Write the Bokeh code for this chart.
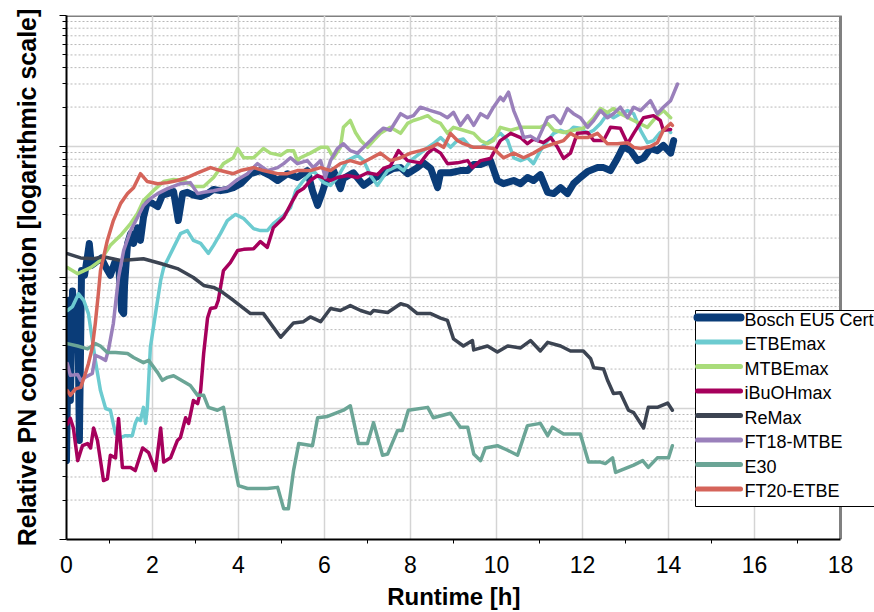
from bokeh.plotting import figure
from bokeh.models import (Range1d, FixedTicker, CustomJSTickFormatter, Label,
                          BoxAnnotation, Arrow)
from bokeh.embed import file_html
from bokeh.resources import INLINE

# ---------------- data ----------------
t_bosch = [0.0, 0.05, 0.09, 0.14, 0.21, 0.26, 0.30, 0.35, 0.42, 0.49, 0.53, 0.58, 0.67, 0.81, 0.93,
           1.02, 1.12, 1.21, 1.28, 1.33, 1.35, 1.42, 1.49, 1.56, 1.65, 1.72, 1.79, 1.88, 2.0, 2.12,
           2.23, 2.35, 2.49, 2.60, 2.70, 2.81, 2.95, 3.12, 3.28, 3.42, 3.58, 3.74, 3.88, 4.05, 4.28,
           4.51, 4.74, 4.91, 5.14, 5.37, 5.60, 5.72, 5.84, 5.95, 6.02, 6.21, 6.37, 6.44, 6.67, 6.91,
           7.14, 7.37, 7.60, 7.77, 7.93, 8.16, 8.30, 8.47, 8.63, 8.70, 8.93, 9.16, 9.33, 9.47, 9.63,
           9.86, 10.02, 10.16, 10.40, 10.56, 10.72, 10.86, 11.02, 11.19, 11.33, 11.49, 11.65, 11.79,
           11.95, 12.12, 12.35, 12.49, 12.65, 12.81, 12.95, 13.12, 13.28, 13.42, 13.58, 13.74, 13.88,
           14.05, 14.12]
v_bosch = [4.0, 67, 11.5, 79, 40, 67, 5.7, 113, 104, 147, 182, 124, 130, 141, 117,
           104, 130, 130, 56, 53, 87, 182, 216, 182, 240, 192, 287, 380, 368, 348,
           425, 437, 453, 272, 437, 447, 425, 415, 437, 470, 460, 470, 485, 520, 620,
           655, 600, 550, 620, 580, 655, 460, 355, 447, 530, 655, 477, 570, 630, 505,
           570, 620, 680, 690, 620, 690, 750, 680, 485, 630, 630, 655, 655, 730, 730,
           780, 550, 520, 550, 520, 580, 550, 610, 447, 437, 485, 437, 520,
           580, 645, 690, 690, 655, 810, 1000, 930, 780, 820, 965, 930, 1020,
           890, 1110]

t_etbe = [0.02, 0.14, 0.28, 0.40, 0.51, 0.67, 0.79, 0.91, 1.02, 1.14, 1.26, 1.37, 1.53, 1.60, 1.65,
          1.72, 1.79, 1.84, 1.88, 1.95, 2.07, 2.19, 2.26, 2.49, 2.65, 2.81, 2.95, 3.12, 3.30, 3.42,
          3.58, 3.74, 3.93, 4.12, 4.35, 4.51, 4.67, 4.81, 5.05, 5.21, 5.33, 5.51, 5.74, 5.98, 6.14,
          6.30, 6.53, 6.77, 6.91, 7.07, 7.23, 7.47, 7.70, 7.84, 8.0, 8.23, 8.40, 8.53, 8.70, 8.93,
          9.09, 9.23, 9.40, 9.63, 9.86, 10.09, 10.26, 10.40, 10.56, 10.72, 10.86, 11.02, 11.19, 11.33,
          11.49, 11.65, 11.79, 11.95, 12.12, 12.26, 12.42, 12.58, 12.72, 12.88, 13.05, 13.19, 13.35,
          13.51, 13.65, 13.81, 13.98, 14.05]
v_etbe = [56, 60, 75, 67, 53, 23.3, 13.7, 10, 9.7, 6.4, 6.0, 6.2, 6.2, 7.7, 8.4,
          8.1, 10.2, 7.7, 10.2, 29.2, 53, 95, 119, 169, 216, 228, 192, 182, 153, 176,
          216, 272, 303, 282, 236, 228, 228, 258, 298, 342, 460, 550, 655, 530, 505,
          580, 780, 855, 780, 600, 505, 655, 710, 655, 780, 890, 985, 1050, 1170, 985,
          1110, 1140, 985, 985, 1110, 1260, 1110, 820, 780, 820, 740, 930, 1110, 1260,
          1330, 1260, 1400, 1380, 1260, 1330, 1500, 1780, 1660, 1780, 1880, 1780, 1330,
          1070, 1110, 1280, 1380, 1280]

t_mtbe = [0.02, 0.26, 0.56, 0.79, 1.02, 1.26, 1.49, 1.65, 1.79, 2.02, 2.26, 2.49, 2.72, 2.95, 3.19,
          3.42, 3.65, 3.88, 3.98, 4.12, 4.35, 4.58, 4.74, 4.98, 5.14, 5.28, 5.37, 5.44, 5.67, 5.91,
          6.07, 6.21, 6.37, 6.44, 6.60, 6.72, 6.84, 7.0, 7.14, 7.30, 7.53, 7.77, 7.93, 8.07, 8.23,
          8.40, 8.53, 8.70, 8.86, 9.0, 9.23, 9.47, 9.63, 9.79, 9.93, 10.09, 10.33, 10.56, 10.79,
          11.02, 11.19, 11.33, 11.56, 11.79, 12.02, 12.26, 12.42, 12.58, 12.72, 12.88, 13.19, 13.51,
          13.74, 13.88, 14.05]
v_mtbe = [119, 107, 119, 135, 176, 210, 258, 308, 387, 460, 540, 560, 550, 495, 495,
          580, 740, 820, 965, 820, 820, 965, 890, 855, 930, 930, 780, 820, 890, 985,
          985, 820, 985, 1400, 1580, 1280, 1110, 985, 1110, 1260, 1400, 1260, 1500, 1580, 1640,
          1720, 1580, 1500, 1260, 1400, 1330, 1260, 1110, 1050, 1110, 1400, 1330, 1400, 1400,
          1400, 1500, 1330, 1280, 1330, 1380, 1660, 1950, 1820, 1950, 1780, 1580, 1400,
          1720, 1880, 1660]

t_ibuoh = [0.02, 0.09, 0.16, 0.26, 0.37, 0.49, 0.56, 0.63, 0.72, 0.86, 0.95, 1.02, 1.14, 1.21, 1.30,
           1.49, 1.60, 1.77, 1.91, 2.07, 2.19, 2.26, 2.42, 2.58, 2.65, 2.77, 2.84, 2.95, 3.05, 3.12,
           3.19, 3.28, 3.35, 3.47, 3.53, 3.65, 3.81, 3.98, 4.12, 4.35, 4.51, 4.67, 4.81, 5.05, 5.26,
           5.37, 5.51, 5.67, 5.84, 6.14, 6.30, 6.53, 6.77, 7.0, 7.23, 7.37, 7.53, 7.72, 7.93, 8.23,
           8.40, 8.53, 8.70, 8.86, 9.09, 9.33, 9.44, 9.63, 9.86, 10.09, 10.33, 10.56, 10.72, 10.86,
           11.09, 11.26, 11.42, 11.56, 11.72, 11.88, 12.12, 12.26, 12.49, 12.65, 12.88, 13.05, 13.19,
           13.42, 13.65, 13.81, 13.88, 14.05]
v_ibuoh = [7.6, 8.4, 7.1, 4.0, 5.2, 5.4, 5.0, 7.1, 5.7, 2.82, 2.9, 4.4, 4.2, 8.4, 3.55,
           3.55, 3.36, 5.0, 4.6, 3.36, 7.1, 3.9, 4.2, 5.7, 6.0, 8.5, 7.7, 11.5, 10.9, 13.7,
           26.3, 49, 58, 59, 67, 113, 130, 161, 164, 166, 188, 170, 240, 286, 387,
           447, 477, 550, 600, 550, 580, 600, 580, 630, 610, 680, 710, 930, 780, 750,
           890, 965, 890, 740, 750, 780, 690, 780, 810, 1110, 1260, 1170, 1050, 1140,
           1070, 1170, 985, 810, 890, 1260, 1280, 1110, 1110, 1400, 1380, 1050, 1260,
           1660, 1720, 1580, 1330, 1350]

t_remax = [0.02, 0.33, 0.63, 0.86, 1.26, 1.79, 2.19, 2.58, 2.95, 3.19, 3.42, 3.58, 3.88, 4.28, 4.58,
           4.98, 5.28, 5.51, 5.67, 5.91, 6.14, 6.37, 6.60, 6.84, 7.07, 7.14, 7.47, 7.77, 7.93, 8.16,
           8.47, 8.70, 8.86, 9.00, 9.23, 9.44, 9.47, 9.79, 10.02, 10.26, 10.56, 10.79, 11.02, 11.19,
           11.49, 11.72, 12.02, 12.19, 12.26, 12.49, 12.58, 12.72, 12.88, 13.07, 13.19, 13.42, 13.53,
           13.74, 13.98, 14.09]
v_remax = [152, 141, 139, 144, 135, 139, 128, 117, 100, 87, 84, 79, 67, 53, 53,
           35, 45, 46, 50, 46, 58, 56, 61, 56, 53, 56, 54, 63, 61, 53,
           53, 49, 47, 34, 30, 33, 28, 30, 27, 30, 29, 33, 27.5, 32,
           30, 27.5, 27.5, 24, 20.5, 20, 16.5, 13, 13.2, 9.7, 9.3, 7.1, 10.2,
           10.2, 11, 9.7]

t_ft18 = [0.02, 0.09, 0.26, 0.33, 0.44, 0.60, 0.67, 0.79, 0.91, 0.98, 1.09, 1.21, 1.33, 1.49, 1.65,
          1.79, 1.95, 2.12, 2.35, 2.65, 2.88, 3.05, 3.19, 3.42, 3.74, 3.98, 4.21, 4.44, 4.67, 4.91,
          5.05, 5.21, 5.37, 5.60, 5.74, 5.91, 6.02, 6.14, 6.30, 6.44, 6.60, 6.77, 6.91, 7.07, 7.23,
          7.37, 7.53, 7.77, 7.93, 8.07, 8.23, 8.47, 8.70, 8.86, 9.0, 9.16, 9.33, 9.47, 9.63, 9.79,
          9.93, 10.09, 10.16, 10.28, 10.40, 10.56, 10.63, 10.79, 10.95, 11.09, 11.19, 11.33, 11.49,
          11.65, 11.79, 11.95, 12.12, 12.26, 12.42, 12.58, 12.72, 12.88, 13.05, 13.19, 13.35, 13.58,
          13.74, 13.88, 14.05, 14.21]
v_ft18 = [22, 17.9, 18.2, 16.4, 17.3, 18.5, 25.5, 24.5, 23.3, 28.5, 44.7, 100, 161, 228, 287,
          355, 400, 437, 477, 520, 530, 437, 447, 460, 485, 560, 620, 740, 655, 690,
          740, 820, 740, 780, 690, 780, 580, 780, 965, 1050, 930, 890, 985, 1110, 1260,
          1380, 1330, 1780, 1660, 1720, 1995, 1880, 1780, 1660, 1820, 1450, 1720, 1450, 1780, 1660,
          1995, 2380, 2240, 2600, 1880, 1400, 1170, 1200, 1110, 1400, 1660, 1720, 1500,
          1950, 1780, 1660, 1400, 1580, 1880, 1660, 1780, 1995, 1660, 1995, 1880, 2240,
          1780, 1995, 2240, 3000]

t_e30 = [0.02, 0.26, 0.49, 0.67, 0.79, 0.95, 1.14, 1.42, 1.56, 1.79, 1.91, 2.12, 2.23, 2.35, 2.49,
         2.65, 2.88, 3.05, 3.19, 3.30, 3.51, 3.65, 3.81, 4.0, 4.21, 4.67, 4.91, 5.05, 5.16, 5.28,
         5.40, 5.72, 5.84, 6.07, 6.44, 6.60, 6.79, 7.0, 7.14, 7.35, 7.47, 7.70, 7.81, 7.95, 8.40,
         8.53, 8.93, 9.16, 9.33, 9.47, 9.63, 9.74, 10.02, 10.26, 10.49, 10.72, 11.02, 11.19, 11.30,
         11.56, 11.95, 12.14, 12.42, 12.53, 12.70, 12.77, 13.19, 13.40, 13.53, 13.74, 14.0, 14.09]
v_e30 = [31.3, 30, 28.5, 31.3, 30, 26.8, 26.8, 26.3, 24.5, 22.4, 23.3, 18.8, 16.4, 17.3, 17.8,
         16.6, 15, 12.6, 12.6, 10.2, 9.7, 10.2, 5.4, 2.58, 2.45, 2.45, 2.5, 1.72, 1.72, 3.36,
         5.4, 5.2, 8.5, 8.7, 9.7, 10.5, 5.4, 5.4, 7.8, 4.4, 4.5, 6.8, 6.8, 9.7, 10.2,
         8.5, 9.2, 7.2, 7.2, 4.5, 4.0, 5.0, 5.2, 4.8, 4.4, 7.4, 7.7, 6.2, 7.2,
         6.4, 6.4, 3.9, 3.9, 3.8, 4.2, 3.25, 3.7, 4.0, 3.55, 4.2, 4.2, 5.2]

t_ft20 = [0.02, 0.09, 0.21, 0.33, 0.44, 0.51, 0.60, 0.67, 0.74, 0.79, 0.95, 1.09, 1.26, 1.42, 1.56,
          1.72, 1.88, 2.12, 2.35, 2.58, 2.81, 3.05, 3.35, 3.58, 3.88, 4.05, 4.35, 4.58, 4.91, 5.14,
          5.37, 5.67, 5.91, 6.14, 6.37, 6.60, 6.84, 7.07, 7.30, 7.53, 7.77, 8.0, 8.23, 8.47, 8.63,
          8.77, 8.93, 9.09, 9.23, 9.47, 9.70, 9.93, 10.16, 10.40, 10.63, 10.86, 11.09, 11.33, 11.56,
          11.72, 11.88, 12.12, 12.35, 12.58, 12.81, 13.05, 13.19, 13.35, 13.58, 13.74, 13.88, 14.05,
          14.09]
v_ft20 = [13.7, 12.6, 14.1, 14.5, 18.5, 22, 29.2, 44.7, 75, 113, 192, 272, 368, 437, 485,
          620, 540, 520, 530, 550, 580, 630, 690, 655, 620, 655, 690, 655, 620, 620,
          655, 655, 690, 655, 740, 780, 740, 810, 890, 780, 820, 890, 930, 985, 1050,
          985, 1260, 1110, 1050, 985, 985, 965, 820, 890, 820, 890, 985, 1050, 1110,
          1260, 1170, 1170, 1260, 1050, 1050, 1070, 985, 965, 1000, 1070, 1330, 1500,
          1450]

names = ["Bosch EU5 Cert", "ETBEmax", "MTBEmax", "iBuOHmax", "ReMax", "FT18-MTBE", "E30", "FT20-ETBE"]
times = [t_bosch, t_etbe, t_mtbe, t_ibuoh, t_remax, t_ft18, t_e30, t_ft20]
values = [v_bosch, v_etbe, v_mtbe, v_ibuoh, v_remax, v_ft18, v_e30, v_ft20]
colors = ["#0a3c78", "#6ccbd0", "#a9dc7a", "#a6005c", "#3c4452", "#9a80bb", "#6ba596", "#d5645a"]
widths = [7, 3.5, 3.5, 3.5, 3.5, 3.5, 3.5, 3.5]

x_min, x_max = 0, 18
x_major = [0, 2, 4, 6, 8, 10, 12, 14, 16, 18]
x_minor = [1, 3, 5, 7, 9, 11, 13, 15, 17]
y_min, y_max = 1, 10000
y_major = [1, 10, 100, 1000, 10000]
y_minor = [m * d for d in [1, 10, 100, 1000] for m in range(2, 10)]

FONT = "Liberation Sans"

# The frame is widened past x=18 (to the page edge) so that the legend, which in the
# reference sticks out beyond the plot area, is not clipped; the visible plot box
# (borders and grid) still ends at x=18.
FRAME_LEFT, PLOT_RIGHT, PAGE_W = 66, 840, 874
x_view_max = x_max * (PAGE_W - FRAME_LEFT) / (PLOT_RIGHT - FRAME_LEFT)

p = figure(width=PAGE_W, height=612, y_axis_type="log",
           x_range=Range1d(x_min, x_view_max), y_range=Range1d(y_min, y_max),
           output_backend="svg", toolbar_location=None,
           min_border_left=FRAME_LEFT, min_border_right=0, min_border_top=15, min_border_bottom=73)

p.outline_line_color = None
p.background_fill_color = "white"
p.border_fill_color = "white"

# axes
p.xaxis.ticker = FixedTicker(ticks=x_major, minor_ticks=x_minor)
p.xaxis.bounds = (x_min, x_max)
p.yaxis.ticker = FixedTicker(ticks=y_major, minor_ticks=y_minor)
p.yaxis.formatter = CustomJSTickFormatter(code="return '';")
for ax in (p.xaxis, p.yaxis):
    ax.axis_line_color = "black"
    ax.axis_line_width = 2
    ax.major_tick_line_color = "black"
    ax.minor_tick_line_color = "black"
    ax.major_tick_in = 0
    ax.minor_tick_in = 0
    ax.axis_label_text_font = FONT
    ax.axis_label_text_font_style = "bold"
    ax.axis_label_text_color = "black"
    ax.major_label_text_font = FONT
    ax.major_label_text_color = "black"

p.xaxis.major_tick_out = 0
p.xaxis.minor_tick_out = 4
p.xaxis.major_label_text_font_size = "23px"
p.xaxis.major_label_standoff = 12
# trailing no-break spaces re-centre the label on 0..18 (the frame runs a bit wider)
p.xaxis.axis_label = "Runtime [h]" + "\u00a0" * 5
p.xaxis.axis_label_text_font_size = "24px"
p.xaxis.axis_label_standoff = 7

p.yaxis.major_tick_out = 7
p.yaxis.minor_tick_out = 4
p.yaxis.major_label_text_font_size = "1px"
p.yaxis.major_label_standoff = 0
p.yaxis.axis_label = "Relative PN concentration [logarithmic scale]"
p.yaxis.axis_label_text_font_size = "25px"
p.yaxis.axis_label_standoff = 19

# grids (horizontal ones drawn only across 0..18)
p.xgrid.ticker = FixedTicker(ticks=x_major[1:-1])
p.xgrid.grid_line_color = "#d4d4d4"
p.xgrid.grid_line_width = 1.5
p.ygrid.grid_line_color = None
p.multi_line([[x_min, x_max]] * len(y_minor), [[v, v] for v in y_minor],
             line_color="#b8b8b8", line_width=1, line_dash="2 2", level="underlay")
p.multi_line([[x_min, x_max]] * len(y_major[1:-1]), [[v, v] for v in y_major[1:-1]],
             line_color="#d4d4d4", line_width=1.5, level="underlay")
# grey top and right borders of the plot box
p.line([x_min, x_max, x_max], [y_max, y_max, y_min], line_color="#808080", line_width=3,
       level="underlay")

for t, v, col, lw in zip(times, values, colors, widths):
    p.line(t, v, line_color=col, line_width=lw, line_join="round", line_cap="round")

# legend: white box, left/top/bottom edges (its right edge lies beyond the page)
LEG_L, LEG_R, LEG_T, LEG_B = 629, 900, 229, 33
p.add_layout(BoxAnnotation(left=LEG_L, right=LEG_R, top=LEG_T, bottom=LEG_B,
                           left_units="screen", right_units="screen",
                           top_units="screen", bottom_units="screen",
                           fill_color="white", fill_alpha=1.0, line_color=None,
                           level="overlay"))
for (xa, ya, xb, yb) in [(LEG_L, LEG_T, LEG_R, LEG_T), (LEG_L, LEG_B, LEG_R, LEG_B),
                         (LEG_L, LEG_B, LEG_L, LEG_T)]:
    p.add_layout(Arrow(x_start=xa, y_start=ya, x_end=xb, y_end=yb,
                       start_units="screen", end_units="screen", end=None,
                       line_color="black", line_width=1, level="overlay"))
for i, (name, col, lw) in enumerate(zip(names, colors, widths)):
    yl = 222 - 24.5 * i
    p.add_layout(Arrow(x_start=631, y_start=yl, x_end=674, y_end=yl,
                       start_units="screen", end_units="screen", end=None,
                       line_color=col, line_width=8 if lw > 5 else 5, line_cap="round",
                       level="overlay"))
    p.add_layout(Label(x=678, y=yl - 2, x_units="screen", y_units="screen", text=name,
                       text_font=FONT, text_font_size="18px", text_color="black",
                       text_baseline="middle", text_align="left", level="overlay"))

open("out.html", "w").write(file_html(p, INLINE))
